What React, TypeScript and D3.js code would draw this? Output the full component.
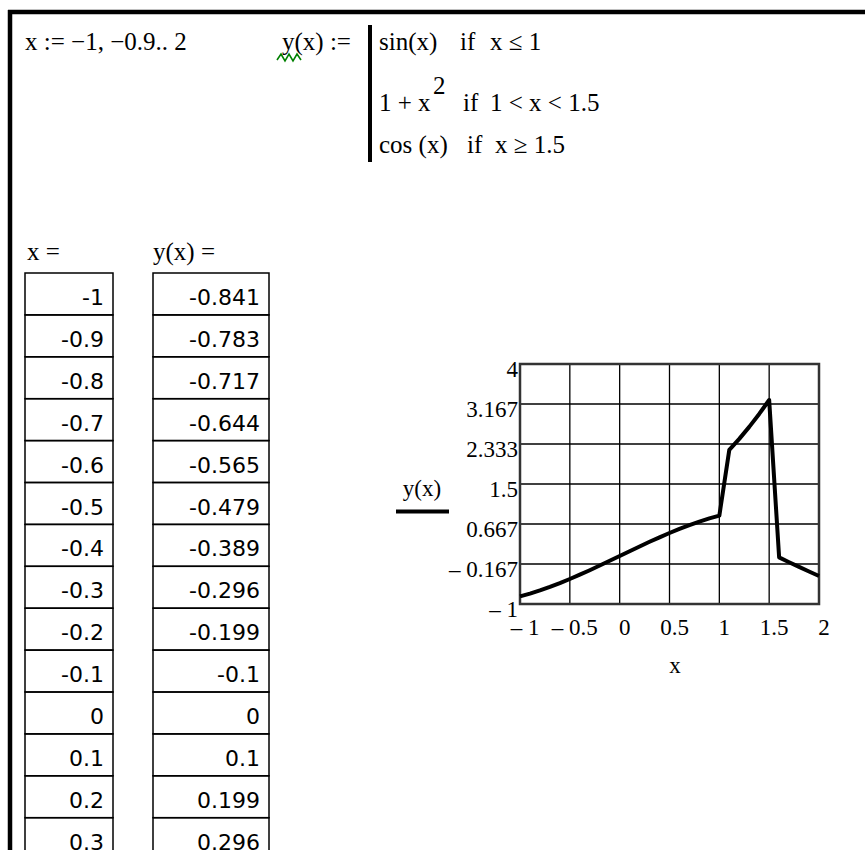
import React from "react";
import * as d3 from "d3";

// Range variable x := -1, -0.9 .. 2 and the evaluated piecewise function y(x)
const xValues = [
  -1, -0.9, -0.8, -0.7, -0.6, -0.5, -0.4, -0.3, -0.2, -0.1, 0, 0.1, 0.2, 0.3, 0.4, 0.5,
  0.6, 0.7, 0.8, 0.9, 1, 1.1, 1.2, 1.3, 1.4, 1.5, 1.6, 1.7, 1.8, 1.9, 2,
];
const yValues = [
  -0.841, -0.783, -0.717, -0.644, -0.565, -0.479, -0.389, -0.296, -0.199, -0.1, 0, 0.1,
  0.199, 0.296, 0.389, 0.479, 0.565, 0.644, 0.717, 0.783, 0.841, 2.21, 2.44, 2.69, 2.96,
  3.25, -0.029, -0.129, -0.227, -0.323, -0.416,
];

// Axis ticks and their printed labels
const xTicks = [-1, -0.5, 0, 0.5, 1, 1.5, 2];
const xTickLabels = ["\u2013 1", "\u2013 0.5", "0", "0.5", "1", "1.5", "2"];
const yTicks = [-1, -1 + 5 / 6, -1 + 10 / 6, 1.5, -1 + 20 / 6, -1 + 25 / 6, 4];
const yTickLabels = ["\u2013 1", "\u2013 0.167", "0.667", "1.5", "2.333", "3.167", "4"];

const serif = "'Liberation Serif', 'Times New Roman', serif";
const sans = "'DejaVu Sans', Verdana, sans-serif";

export default function App() {
  const W = 865;
  const H = 850;

  const x = d3.scaleLinear().domain([-1, 2]).range([520, 819]);
  const y = d3.scaleLinear().domain([-1, 4]).range([604, 364]);

  const line = d3
    .line<number>()
    .x((_, i) => x(xValues[i]))
    .y((d) => y(d));

  // result tables: only the rows that fit in the visible region of the worksheet
  const rowTop = 273;
  const rowH = 41.9;
  const visibleRows = Math.ceil((H - rowTop) / rowH);
  const xCol = { left: 25, right: 113, text: 104 };
  const yCol = { left: 153, right: 269, text: 260 };

  const fmt = (v: number) => String(v);

  const rows = xValues.slice(0, visibleRows).map((xv, i) => ({ xv, yv: yValues[i], i }));

  return (
    <svg
      width={W}
      height={H}
      style={{ position: "absolute", left: 0, top: 0, background: "#fff" }}
      xmlSpace="preserve"
    >
      <rect x={0} y={0} width={W} height={H} fill="#fff" />

      {/* worksheet frame */}
      <line x1={8} x2={W} y1={12} y2={12} stroke="#000" strokeWidth={4.5} />
      <line x1={10} x2={10} y1={10} y2={H} stroke="#000" strokeWidth={4.5} />

      {/* definitions */}
      <g fontFamily={serif} fontSize={25} fill="#000">
        <text x={25} y={50}>{"x := \u22121, \u22120.9.. 2"}</text>
        <text x={282} y={50}>{"y(x) :="}</text>
        <polyline
          points="277,60 281,54 285,61 289,54 293,61 297,54 301,60"
          fill="none"
          stroke="#008000"
          strokeWidth={1.6}
        />
        <line x1={370} x2={370} y1={25} y2={162} stroke="#000" strokeWidth={4} />

        <text x={379} y={50}>sin(x)</text>
        <text x={460} y={50}>if</text>
        <text x={490} y={50}>{"x \u2264 1"}</text>

        <text x={379} y={111}>{"1 + x"}</text>
        <text x={433} y={94}>2</text>
        <text x={463} y={111}>if</text>
        <text x={490} y={111}>{"1 < x < 1.5"}</text>

        <text x={379} y={153}>{"cos (x)"}</text>
        <text x={467} y={153}>if</text>
        <text x={495} y={153}>{"x \u2265 1.5"}</text>

        <text x={27} y={260}>{"x ="}</text>
        <text x={153} y={260}>{"y(x)  ="}</text>
      </g>

      {/* evaluation tables */}
      <g fontFamily={sans} fontSize={22}>
        {rows.map(({ xv, yv, i }) => (
          <g key={"r" + i}>
            <rect
              x={xCol.left}
              y={rowTop + i * rowH}
              width={xCol.right - xCol.left}
              height={rowH}
              fill="none"
              stroke="#000"
              strokeWidth={1.5}
            />
            <text x={xCol.text} y={rowTop + i * rowH + 32} textAnchor="end">
              {fmt(xv)}
            </text>
            <rect
              x={yCol.left}
              y={rowTop + i * rowH}
              width={yCol.right - yCol.left}
              height={rowH}
              fill="none"
              stroke="#000"
              strokeWidth={1.5}
            />
            <text x={yCol.text} y={rowTop + i * rowH + 32} textAnchor="end">
              {fmt(yv)}
            </text>
          </g>
        ))}
      </g>

      {/* X-Y plot */}
      <g>
        {xTicks.map((t) => (
          <line
            key={"gx" + t}
            x1={x(t)}
            x2={x(t)}
            y1={y(-1)}
            y2={y(4)}
            stroke="#000"
            strokeWidth={1.3}
          />
        ))}
        {yTicks.map((t, i) => (
          <line
            key={"gy" + i}
            x1={x(-1)}
            x2={x(2)}
            y1={y(t)}
            y2={y(t)}
            stroke="#000"
            strokeWidth={1.3}
          />
        ))}
        <rect
          x={x(-1)}
          y={y(4)}
          width={x(2) - x(-1)}
          height={y(-1) - y(4)}
          fill="none"
          stroke="#333"
          strokeWidth={2.5}
        />
        <path
          d={line(yValues) || ""}
          fill="none"
          stroke="#000"
          strokeWidth={4}
          strokeLinejoin="round"
        />

        <g fontFamily={serif} fontSize={23} fill="#000">
          {yTicks.map((t, i) => (
            <text key={"ly" + i} x={518} y={y(t) + 13} textAnchor="end">
              {yTickLabels[i]}
            </text>
          ))}
          {xTicks.map((t, i) => (
            <text key={"lx" + i} x={x(t) + 5} y={635} textAnchor="middle">
              {xTickLabels[i]}
            </text>
          ))}
          <text x={675} y={673} textAnchor="middle">
            x
          </text>
          <text x={422} y={496} textAnchor="middle">
            y(x)
          </text>
        </g>
        <line x1={396} x2={449} y1={511.5} y2={511.5} stroke="#000" strokeWidth={4} />
      </g>
    </svg>
  );
}
